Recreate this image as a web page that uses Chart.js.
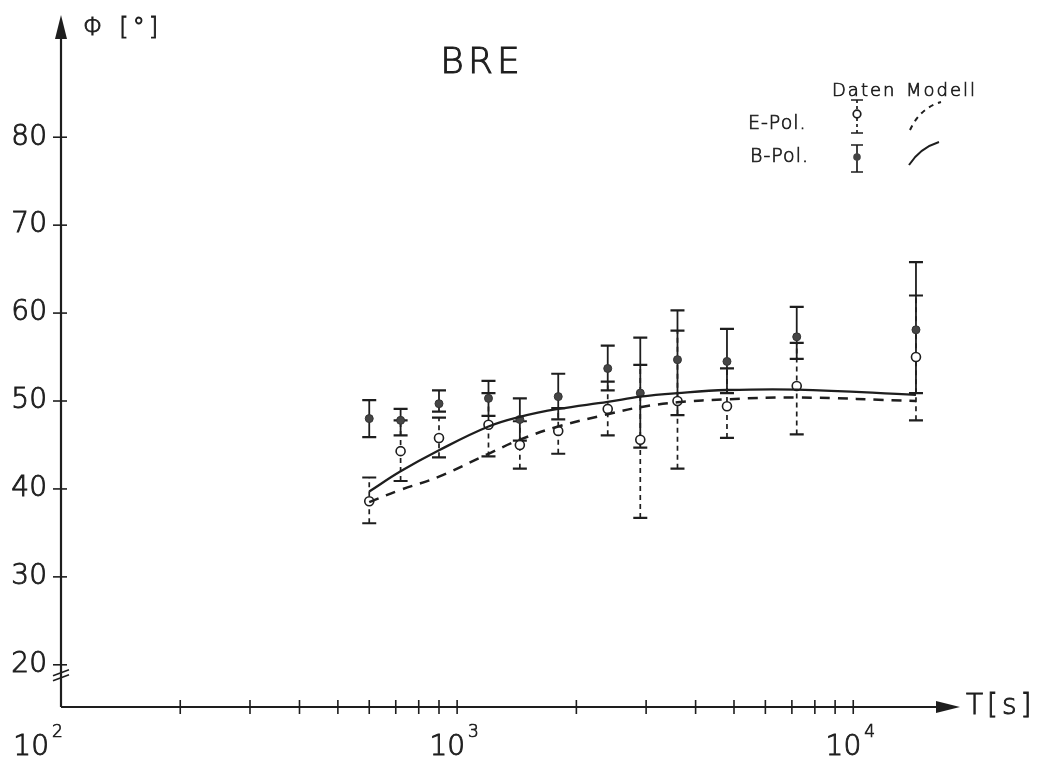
<!DOCTYPE html>
<html>
<head>
<meta charset="utf-8">
<script src="https://cdn.jsdelivr.net/npm/chart.js@4.4.1/dist/chart.umd.min.js"></script>
<style>
  html, body { margin: 0; background: #fff; }
  #wrap { width: 1039px; height: 764px; }
</style>
</head>
<body>
<div id="wrap"><canvas id="chart"></canvas></div>
<script>
// Perioden T [s]
const periods = [600, 720, 900, 1200, 1440, 1800, 2400, 2900, 3600, 4800, 7200, 14400];

// B-Polarisation: Daten + Fehlergrenzen
const bPhase = [48.0, 47.8, 49.7, 50.3, 47.9, 50.5, 53.7, 50.9, 54.7, 54.5, 57.3, 58.1];
const bLow   = [45.9, 46.1, 48.8, 48.3, 45.5, 47.9, 51.2, 44.7, 48.4, 50.9, 54.8, 50.9];
const bHigh  = [50.1, 49.1, 51.2, 52.3, 50.3, 53.1, 56.3, 57.2, 60.3, 58.2, 60.7, 65.8];

// E-Polarisation: Daten + Fehlergrenzen
const ePhase = [38.6, 44.3, 45.8, 47.3, 45.0, 46.6, 49.1, 45.6, 50.0, 49.4, 51.7, 55.0];
const eLow   = [36.1, 40.9, 43.6, 43.7, 42.3, 44.0, 46.1, 36.7, 42.3, 45.8, 46.2, 47.8];
const eHigh  = [41.3, 47.8, 48.1, 50.9, 47.7, 49.2, 52.2, 54.1, 58.0, 53.7, 56.6, 62.0];

// Modellkurven
const bModel = [39.7, 42.0, 44.4, 47.1, 48.2, 49.1, 49.9, 50.5, 50.9, 51.25, 51.3, 50.7];
const eModel = [38.5, 39.9, 41.4, 44.0, 45.6, 47.1, 48.5, 49.3, 49.85, 50.2, 50.4, 50.0];

// Achsen
const yTicks = [20, 30, 40, 50, 60, 70, 80];
const xTicks = [200, 300, 400, 500, 600, 700, 800, 900, 1000,
                2000, 3000, 4000, 5000, 6000, 7000, 8000, 9000, 10000];
const xDecades = [100, 1000, 10000];
const xDecadeExp = ['2', '3', '4'];

const INK = '#1e1e1e';
const FONT = '"DejaVu Sans", sans-serif';

const toPts = vals => vals.map((v, i) => ({ x: periods[i], y: v }));

// Text etwas kraeftiger als ExtraLight (Plotterschrift)
function penText(ctx, txt, x, y, w) {
  ctx.lineWidth = w || 0.9;
  ctx.strokeText(txt, x, y);
  ctx.fillText(txt, x, y);
}

// Fehlerbalken unter die Punkte zeichnen
const errorBars = {
  id: 'errorBars',
  beforeDatasetsDraw(chart) {
    const { ctx, scales: { x, y } } = chart;
    chart.data.datasets.forEach(ds => {
      if (!ds.errLow) return;
      ctx.save();
      ctx.strokeStyle = INK;
      ds.errLow.forEach((lo, i) => {
        const px = x.getPixelForValue(periods[i]);
        const p1 = y.getPixelForValue(lo);
        const p2 = y.getPixelForValue(ds.errHigh[i]);
        ctx.lineWidth = ds.errDash ? 1.7 : 1.8;
        ctx.setLineDash(ds.errDash ? [5, 4] : []);
        ctx.beginPath();
        ctx.moveTo(px, p1);
        ctx.lineTo(px, p2);
        ctx.stroke();
        ctx.setLineDash([]);
        ctx.lineWidth = 2.2;
        ctx.beginPath();
        ctx.moveTo(px - 7, p1); ctx.lineTo(px + 7, p1);
        ctx.moveTo(px - 7, p2); ctx.lineTo(px + 7, p2);
        ctx.stroke();
      });
      ctx.restore();
    });
  }
};

// Achsen, Pfeile, Beschriftung, Legende
const axesPlugin = {
  id: 'axesPlugin',
  afterDraw(chart) {
    const { ctx, chartArea: a, scales: { x, y } } = chart;
    const x0 = a.left, yb = a.bottom;
    ctx.save();
    ctx.strokeStyle = INK;
    ctx.fillStyle = INK;
    ctx.lineWidth = 2.2;

    // Achsenlinien
    ctx.beginPath();
    ctx.moveTo(x0, yb); ctx.lineTo(x0, a.top + 20);
    ctx.moveTo(x0, yb); ctx.lineTo(a.right - 20, yb);
    ctx.stroke();
    // Pfeilspitzen
    ctx.beginPath();
    ctx.moveTo(x0, a.top); ctx.lineTo(x0 - 6, a.top + 24); ctx.lineTo(x0 + 6, a.top + 24);
    ctx.closePath(); ctx.fill();
    ctx.beginPath();
    ctx.moveTo(a.right, yb); ctx.lineTo(a.right - 24, yb - 6); ctx.lineTo(a.right - 24, yb + 6);
    ctx.closePath(); ctx.fill();

    // y-Ticks
    ctx.textAlign = 'right';
    ctx.textBaseline = 'middle';
    yTicks.forEach(v => {
      const py = y.getPixelForValue(v);
      ctx.lineWidth = 1.6;
      ctx.beginPath();
      ctx.moveTo(x0 - 8, py); ctx.lineTo(x0 + 6, py);
      ctx.stroke();
      ctx.font = '200 28px ' + FONT;
      penText(ctx, String(v), x0 - 14, py);
    });
    // Achsenbruch bei 20
    const p20 = y.getPixelForValue(20);
    ctx.lineWidth = 1.6;
    ctx.beginPath();
    ctx.moveTo(x0 - 8, p20 + 11); ctx.lineTo(x0 + 8, p20 + 5);
    ctx.moveTo(x0 - 8, p20 + 16); ctx.lineTo(x0 + 8, p20 + 10);
    ctx.stroke();

    // x-Ticks
    xTicks.forEach(v => {
      const px = x.getPixelForValue(v);
      ctx.beginPath();
      ctx.moveTo(px, yb - 7); ctx.lineTo(px, yb + 7);
      ctx.stroke();
    });
    // Dekaden-Beschriftung
    ctx.textBaseline = 'alphabetic';
    xDecades.forEach((v, i) => {
      const px = x.getPixelForValue(v) - (i === 0 ? 22 : 2);
      ctx.font = '200 28px ' + FONT;
      ctx.textAlign = 'right';
      penText(ctx, '10', px + 10, yb + 48);
      ctx.font = '200 17px ' + FONT;
      ctx.textAlign = 'left';
      penText(ctx, xDecadeExp[i], px + 13, yb + 30, 0.7);
    });

    // Achsentitel
    ctx.textAlign = 'left';
    ctx.textBaseline = 'middle';
    ctx.font = '200 24px ' + FONT;
    ctx.letterSpacing = '4px';
    penText(ctx, 'Φ [°]', x0 + 22, a.top + 14);
    ctx.font = '200 28px ' + FONT;
    penText(ctx, 'T[s]', a.right + 6, yb);

    // Titel
    ctx.font = '200 36px ' + FONT;
    ctx.textAlign = 'center';
    penText(ctx, 'BRE', 482, 64, 1);

    // Legende
    ctx.letterSpacing = '2px';
    ctx.font = '200 18px ' + FONT;
    ctx.textAlign = 'left';
    penText(ctx, 'Daten', 832, 91, 0.7);
    penText(ctx, 'Modell', 906, 91, 0.7);
    ctx.letterSpacing = '1px';
    ctx.font = '200 19px ' + FONT;
    penText(ctx, 'E-Pol.', 748, 124, 0.7);
    penText(ctx, 'B-Pol.', 750, 157, 0.7);
    ctx.letterSpacing = '0px';

    const lx = 857;
    ctx.lineWidth = 1.7;
    // E-Symbol
    ctx.setLineDash([3, 3]);
    ctx.beginPath(); ctx.moveTo(lx, 100); ctx.lineTo(lx, 133); ctx.stroke();
    ctx.setLineDash([]);
    ctx.beginPath();
    ctx.moveTo(lx - 6, 100); ctx.lineTo(lx + 6, 100);
    ctx.moveTo(lx - 6, 133); ctx.lineTo(lx + 6, 133);
    ctx.stroke();
    ctx.fillStyle = '#fff';
    ctx.beginPath(); ctx.arc(lx, 114, 3.8, 0, Math.PI * 2); ctx.fill(); ctx.stroke();
    // B-Symbol
    ctx.fillStyle = '#444';
    ctx.beginPath(); ctx.moveTo(lx, 145); ctx.lineTo(lx, 172); ctx.stroke();
    ctx.beginPath();
    ctx.moveTo(lx - 6, 145); ctx.lineTo(lx + 6, 145);
    ctx.moveTo(lx - 6, 172); ctx.lineTo(lx + 6, 172);
    ctx.stroke();
    ctx.beginPath(); ctx.arc(lx, 157, 3.8, 0, Math.PI * 2); ctx.fill();
    // Modell-Symbole
    ctx.lineWidth = 2;
    ctx.setLineDash([5, 5]);
    ctx.beginPath(); ctx.moveTo(910, 130); ctx.quadraticCurveTo(920, 108, 941, 102); ctx.stroke();
    ctx.setLineDash([]);
    ctx.beginPath(); ctx.moveTo(909, 165); ctx.quadraticCurveTo(920, 148, 939, 142); ctx.stroke();
    ctx.restore();
  }
};

new Chart(document.getElementById('chart'), {
  type: 'line',
  data: {
    datasets: [
      { label: 'B-Modell', data: toPts(bModel), borderColor: INK, borderWidth: 2.3,
        pointRadius: 0, tension: 0.4, fill: false },
      { label: 'E-Modell', data: toPts(eModel), borderColor: INK, borderWidth: 2.5,
        borderDash: [10, 8], pointRadius: 0, tension: 0.4, fill: false },
      { label: 'B-Pol.', data: toPts(bPhase), showLine: false, errLow: bLow, errHigh: bHigh,
        pointRadius: 4, pointBackgroundColor: '#454545', pointBorderColor: '#333', pointBorderWidth: 1 },
      { label: 'E-Pol.', data: toPts(ePhase), showLine: false, errLow: eLow, errHigh: eHigh, errDash: true,
        pointRadius: 4.5, pointBackgroundColor: '#fff', pointBorderColor: INK, pointBorderWidth: 1.6 }
    ]
  },
  options: {
    responsive: true,
    maintainAspectRatio: false,
    animation: false,
    layout: { padding: { left: 61, right: 79, top: 15, bottom: 57 } },
    plugins: { legend: { display: false }, tooltip: { enabled: false } },
    scales: {
      x: { type: 'logarithmic', min: 100, max: 18600, display: false },
      y: { type: 'linear', min: 15.2, max: 93.9, display: false }
    }
  },
  plugins: [errorBars, axesPlugin]
});
</script>
</body>
</html>
